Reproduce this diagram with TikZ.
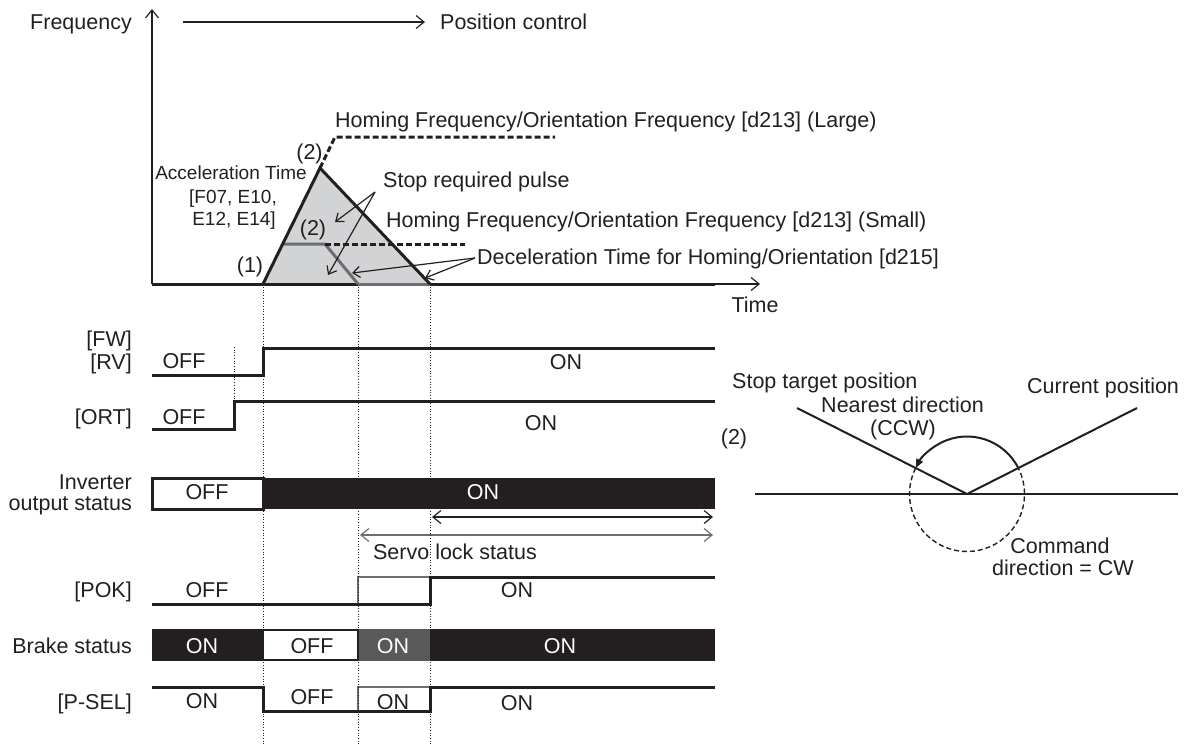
\documentclass[tikz,border=0pt]{standalone}
\usepackage{fontspec}
\setmainfont{Liberation Sans}
\usetikzlibrary{arrows.meta,calc}
\definecolor{ink}{HTML}{231F20}
\definecolor{tri}{HTML}{D1D3D4}
\definecolor{gline}{HTML}{6D6E71}
\definecolor{dgray}{HTML}{58595B}
\begin{document}
\begin{tikzpicture}[x=1pt,y=-1pt,
  txt/.style={inner sep=0pt,text height=15.4pt,text depth=0pt,font=\fontsize{21.5}{24}\selectfont,text=ink},
  smalltxt/.style={inner sep=0pt,text height=13.5pt,text depth=0pt,font=\fontsize{19}{22}\selectfont,text=ink},
  wtxt/.style={txt,text=white},
  sig/.style={draw=ink,line width=3pt},
  gsig/.style={draw=gline,line width=3pt},
  thinline/.style={draw=ink,line width=1.2pt},
  arr/.style={thinline,-{Straight Barb[length=8pt,width=13pt]}},
  sarr/.style={thinline,-{Straight Barb[length=7pt,width=11pt]}},
  darr/.style={thinline,{Straight Barb[length=8pt,width=13pt]}-{Straight Barb[length=8pt,width=13pt]}},
  guide/.style={draw=ink,line width=0.7pt,dotted},
  dashthick/.style={draw=ink,line width=3pt,dash pattern=on 6pt off 3pt},
]
\useasboundingbox (0,0) rectangle (1194,747);

% ---------------- frequency graph ----------------
\coordinate (O) at (152,284);
\coordinate (ytop) at (152,9);
\coordinate (xend) at (760,284);
\coordinate (xthick) at (715,284);
\coordinate (A) at (263,284);
\coordinate (P) at (320,168);
\coordinate (B) at (430,284);
\coordinate (G) at (358,284);
\coordinate (posS) at (183,22);
\coordinate (posE) at (425,22);

\node[txt,anchor=east] (freq) at (132,21.5) {Frequency};
\node[txt,anchor=west] (pos) at (440,21.5) {Position control};
\draw[arr] (posS) -- (posE);

\fill[tri] (A) -- (P) -- (B) -- cycle;
\draw[arr] (O) -- (ytop);
\draw[arr] (O) -- (xend);
\draw[sig] (O) -- (G);
\draw[gsig] (G) -- (B);
\draw[sig] (B) -- (xthick);

% large homing frequency
\coordinate (L1) at (335,137);
\coordinate (L2) at (555,137);
\draw[dashthick] (P) -- (L1) -- (L2);
% small homing frequency
\coordinate (S0) at (282.6,244);
\coordinate (S1) at (325,244);
\coordinate (S2) at (465,244);
\draw[gsig,line join=miter] (S0) -- (S1) -- (G);
\draw[dashthick] (S1) -- (S2);
\draw[sig,line join=miter] (A) -- (P) -- (B);

\node[txt] (t2a) at (309.5,152) {(2)};
\node[txt] (t2b) at (313,228) {(2)};
\node[txt] (t1) at (250,265) {(1)};
\node[smalltxt] (acc1) at (231,173) {Acceleration Time};
\node[smalltxt] (acc2) at (233,197) {[F07, E10,};
\node[smalltxt] (acc3) at (234,219) {E12, E14]};
\node[txt,anchor=west] (homL) at (335,119.5) {Homing Frequency/Orientation Frequency [d213] (Large)};
\node[txt,anchor=west] (stop) at (383,180) {Stop required pulse};
\node[txt,anchor=west] (homS) at (386,219.5) {Homing Frequency/Orientation Frequency [d213] (Small)};
\node[txt,anchor=west] (dec) at (477,256.5) {Deceleration Time for Homing/Orientation [d215]};
\node[txt] (time) at (755,305) {Time};

\coordinate (sp) at (375,192);
\coordinate (sp1) at (335,222);
\coordinate (sp2) at (328,275);
\draw[sarr] (sp) -- (sp1);
\draw[sarr] (sp) -- (sp2);
\coordinate (dc) at (475,258);
\coordinate (dc1) at (352,273);
\coordinate (dc2) at (425,278);
\draw[sarr] (dc) -- (dc1);
\draw[sarr] (dc) -- (dc2);

% ---------------- signals ----------------
% FW/RV
\node[txt,anchor=east] (fw) at (132,339) {[FW]};
\node[txt,anchor=east] (rv) at (132,362) {[RV]};
\draw[sig,line join=miter] (152,375) -- (263,375) -- (263,348) -- (715,348);
\node[txt] (fwoff) at (184,361) {OFF};
\node[txt] (fwon) at (566,362) {ON};
% ORT
\node[txt,anchor=east] (ort) at (132,417) {[ORT]};
\draw[sig,line join=miter] (152,429) -- (234,429) -- (234,401) -- (715,401);
\node[txt] (ortoff) at (184,417) {OFF};
\node[txt] (orton) at (541,423) {ON};
% Inverter output status
\node[txt,anchor=east] (inv1) at (132,482) {Inverter};
\node[txt,anchor=east] (inv2) at (132,503) {output status};
\fill[ink] (263,478) rectangle (715,509);
\draw[draw=ink,line width=3pt,fill=white] (152,478) rectangle (263,509);
\node[txt] (invoff) at (207,492) {OFF};
\node[wtxt] (invon) at (483,492) {ON};
% Servo lock
\coordinate (sv1) at (432,517);
\coordinate (sv2) at (713,517);
\coordinate (sv3) at (360,535);
\coordinate (sv4) at (713,535);
\draw[darr] (sv1) -- (sv2);
\draw[darr,draw=gline] (sv3) -- (sv4);
\node[txt] (servo) at (455,552) {Servo lock status};
% POK
\node[txt,anchor=east] (pok) at (132,590) {[POK]};
\draw[draw=gline,line width=1.6pt] (358,604) -- (358,577) -- (430,577);
\draw[sig,line join=miter] (152,604) -- (430,604) -- (430,577) -- (715,577);
\node[txt] (pokoff) at (207,590) {OFF};
\node[txt] (pokon) at (517,590) {ON};
% Brake status
\node[txt,anchor=east] (brk) at (132,646) {Brake status};
\fill[ink] (152,629) rectangle (263,661);
\fill[dgray] (358,629) rectangle (430,661);
\fill[ink] (430,629) rectangle (715,661);
\draw[draw=ink,line width=2pt,fill=white] (263,630) rectangle (358,660);
\node[wtxt] (b1) at (202,646) {ON};
\node[txt] (b2) at (312,646) {OFF};
\node[wtxt] (b3) at (393,646) {ON};
\node[wtxt] (b4) at (560,646) {ON};
% P-SEL
\node[txt,anchor=east] (psel) at (132,702) {[P-SEL]};
\draw[draw=gline,line width=1.6pt] (358,711) -- (358,687) -- (430,687);
\draw[sig,line join=miter] (152,687) -- (263,687) -- (263,711) -- (430,711) -- (430,687) -- (715,687);
\node[txt] (p1) at (202,701) {ON};
\node[txt] (p2) at (312,697) {OFF};
\node[txt] (p3) at (393,702) {ON};
\node[txt] (p4) at (517,703) {ON};

% guides
\draw[guide] (263,287) -- (263,745);
\draw[guide] (358,287) -- (358,745);
\draw[guide] (430,287) -- (430,745);
\draw[guide] (234,347) -- (234,401);

% ---------------- right diagram ----------------
\coordinate (C) at (967,494);
\coordinate (hl) at (755,494);
\coordinate (hr) at (1178,494);
\coordinate (lt) at (797,408);
\coordinate (rt) at (1137,408);
\draw[draw=ink,line width=1.2pt] (hl) -- (hr);
\draw[draw=ink,line width=2pt] (lt) -- (C) -- (rt);
\draw[draw=ink,line width=1.4pt,dash pattern=on 5pt off 3pt] ($(C)+(153.2:57.5pt)$) arc[start angle=153.2,end angle=386.8,radius=57.5pt];
\draw[draw=ink,line width=2pt,-{Triangle[length=9pt,width=7pt]}] ($(C)+(26.8:57.5pt)$) arc[start angle=26.8,end angle=153.2,radius=57.5pt];

\node[txt,anchor=west] (stt) at (732,381) {Stop target position};
\node[txt] (near) at (902.5,405) {Nearest direction};
\node[txt] (ccw) at (903,428) {(CCW)};
\node[txt,anchor=west] (cur) at (1027,386) {Current position};
\node[txt] (r2) at (734,437) {(2)};
\node[txt] (cmd1) at (1060,545.5) {Command};
\node[txt] (cmd2) at (1063,568) {direction = CW};
\end{tikzpicture}
\end{document}
